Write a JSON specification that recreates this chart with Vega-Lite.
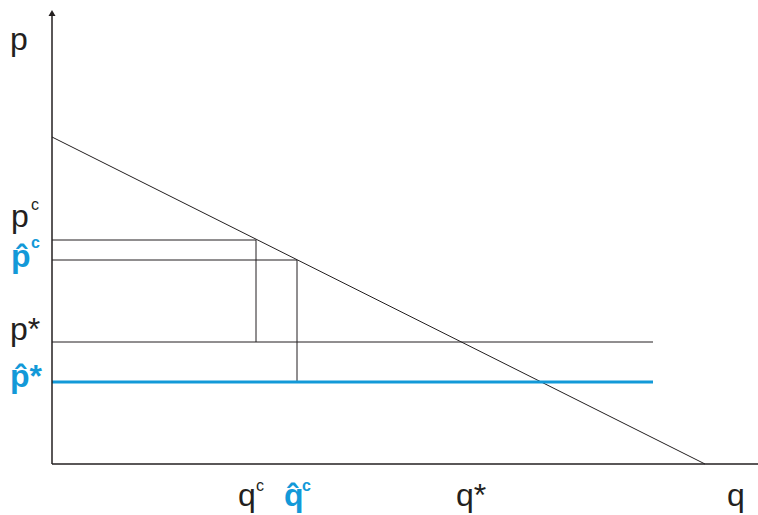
{
  "$schema": "https://vega.github.io/schema/vega-lite/v6.json",
  "width": 706,
  "height": 464,
  "autosize": "none",
  "padding": {"left": 52, "top": 0, "right": 0, "bottom": 51},
  "background": "white",
  "config": {"view": {"stroke": null}},
  "datasets": {
    "axes": [
      {"x": 0, "x2": 0, "y": 0, "y2": 452},
      {"x": 0, "x2": 706, "y": 0, "y2": 0}
    ],
    "arrow": [{"x": 0, "y": 451}],
    "thin": [
      {"x": 0, "x2": 653, "y": 327, "y2": 0},
      {"x": 0, "x2": 204, "y": 224, "y2": 224},
      {"x": 0, "x2": 245, "y": 204, "y2": 204},
      {"x": 0, "x2": 601, "y": 122, "y2": 122},
      {"x": 204, "x2": 204, "y": 122, "y2": 224},
      {"x": 245, "x2": 245, "y": 82, "y2": 204}
    ],
    "blue": [{"x": 0, "x2": 601, "y": 82, "y2": 82}],
    "blackLabels": [
      {"x": -42, "y": 414, "t": "p"},
      {"x": -41, "y": 237, "t": "p"},
      {"x": -42, "y": 124, "t": "p*"},
      {"x": 186, "y": -42, "t": "q"},
      {"x": 404, "y": -42, "t": "q*"},
      {"x": 675, "y": -42, "t": "q"}
    ],
    "blackSup": [
      {"x": -21, "y": 254, "t": "c"},
      {"x": 204, "y": -27, "t": "c"}
    ],
    "blueLabels": [
      {"x": -41, "y": 197, "t": "p̂"},
      {"x": -42, "y": 77, "t": "p̂*"},
      {"x": 232, "y": -42, "t": "q̂"}
    ],
    "blueSup": [
      {"x": -21, "y": 216, "t": "c"},
      {"x": 250, "y": -27, "t": "c"}
    ]
  },
  "layer": [
    {
      "data": {"name": "thin"},
      "mark": {"type": "rule", "color": "#231f20", "strokeWidth": 1, "clip": false},
      "encoding": {
        "x": {"field": "x", "type": "quantitative", "scale": {"domain": [0, 706], "nice": false, "zero": false}, "axis": null},
        "x2": {"field": "x2"},
        "y": {"field": "y", "type": "quantitative", "scale": {"domain": [0, 464], "nice": false, "zero": false}, "axis": null},
        "y2": {"field": "y2"}
      }
    },
    {
      "data": {"name": "blue"},
      "mark": {"type": "rule", "color": "#1399d8", "strokeWidth": 3, "clip": false},
      "encoding": {
        "x": {"field": "x", "type": "quantitative"},
        "x2": {"field": "x2"},
        "y": {"field": "y", "type": "quantitative"},
        "y2": {"field": "y2"}
      }
    },
    {
      "data": {"name": "axes"},
      "mark": {"type": "rule", "color": "#231f20", "strokeWidth": 1.5, "clip": false},
      "encoding": {
        "x": {"field": "x", "type": "quantitative"},
        "x2": {"field": "x2"},
        "y": {"field": "y", "type": "quantitative"},
        "y2": {"field": "y2"}
      }
    },
    {
      "data": {"name": "arrow"},
      "mark": {"type": "point", "shape": "triangle-up", "filled": true, "size": 49, "color": "#231f20", "opacity": 1, "clip": false},
      "encoding": {
        "x": {"field": "x", "type": "quantitative"},
        "y": {"field": "y", "type": "quantitative"}
      }
    },
    {
      "data": {"name": "blackLabels"},
      "mark": {"type": "text", "align": "left", "baseline": "alphabetic", "font": "Liberation Sans", "fontSize": 32, "color": "#231f20", "clip": false},
      "encoding": {
        "x": {"field": "x", "type": "quantitative"},
        "y": {"field": "y", "type": "quantitative"},
        "text": {"field": "t"}
      }
    },
    {
      "data": {"name": "blackSup"},
      "mark": {"type": "text", "align": "left", "baseline": "alphabetic", "font": "Liberation Sans", "fontSize": 16, "color": "#231f20", "clip": false},
      "encoding": {
        "x": {"field": "x", "type": "quantitative"},
        "y": {"field": "y", "type": "quantitative"},
        "text": {"field": "t"}
      }
    },
    {
      "data": {"name": "blueLabels"},
      "mark": {"type": "text", "align": "left", "baseline": "alphabetic", "font": "Liberation Sans", "fontSize": 32, "fontWeight": "bold", "color": "#1399d8", "clip": false},
      "encoding": {
        "x": {"field": "x", "type": "quantitative"},
        "y": {"field": "y", "type": "quantitative"},
        "text": {"field": "t"}
      }
    },
    {
      "data": {"name": "blueSup"},
      "mark": {"type": "text", "align": "left", "baseline": "alphabetic", "font": "Liberation Sans", "fontSize": 16, "fontWeight": "bold", "color": "#1399d8", "clip": false},
      "encoding": {
        "x": {"field": "x", "type": "quantitative"},
        "y": {"field": "y", "type": "quantitative"},
        "text": {"field": "t"}
      }
    }
  ]
}
